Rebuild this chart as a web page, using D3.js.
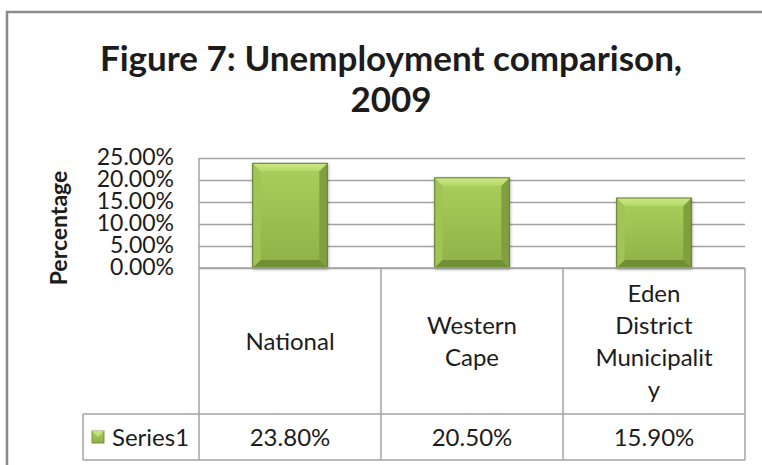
<!DOCTYPE html>
<html>
<head>
<meta charset="utf-8">
<script src="https://cdn.jsdelivr.net/npm/d3@7"></script>
<style>
  html, body { margin: 0; padding: 0; background: #ffffff; }
  svg { display: block; }
  text { font-family: Lato, "Open Sans", sans-serif; fill: #1c1c1c; }
</style>
</head>
<body>
<svg id="chart" width="762" height="465"></svg>
<script>
// Unemployment rate by area, 2009
const categories = ["National", "Western Cape", "Eden District Municipality"];
const categoryLines = [["National"], ["Western", "Cape"], ["Eden", "District", "Municipalit", "y"]];
const values = [0.238, 0.205, 0.159];
const seriesName = "Series1";
const yTicks = [0, 0.05, 0.10, 0.15, 0.20, 0.25];
const titleLines = ["Figure 7: Unemployment comparison,", "2009"];
const yAxisTitle = "Percentage";

const svg = d3.select("#chart");
const fmt = d3.format(".2%");

// layout
const plotLeft = 199, plotRight = 745, plotTop = 158, plotBottom = 268;
const headerBottom = 414, tableBottom = 460, legendLeft = 83;
const gridColor = "#a3a3a3";

const defs = svg.append("defs");
const body = defs.append("linearGradient").attr("id", "barBody").attr("x1", 0).attr("y1", 0).attr("x2", 0).attr("y2", 1);
body.append("stop").attr("offset", "0%").attr("stop-color", "#abcf5c");
body.append("stop").attr("offset", "100%").attr("stop-color", "#8fb048");
const topG = defs.append("linearGradient").attr("id", "barTop").attr("x1", 0).attr("y1", 0).attr("x2", 0).attr("y2", 1);
topG.append("stop").attr("offset", "0%").attr("stop-color", "#cde887");
topG.append("stop").attr("offset", "100%").attr("stop-color", "#b5d867");
const shadow = defs.append("filter").attr("id", "barShadow").attr("x", "-20%").attr("y", "-20%").attr("width", "140%").attr("height", "140%");
shadow.append("feDropShadow").attr("dx", 0.5).attr("dy", 1).attr("stdDeviation", 1.6)
  .attr("flood-color", "#000").attr("flood-opacity", 0.35);

// outer chart border
svg.append("rect")
  .attr("x", 7).attr("y", 12).attr("width", 800).attr("height", 500)
  .attr("fill", "#fff").attr("stroke", "#8a8a8a").attr("stroke-width", 2.5);

// title
svg.append("text")
  .attr("x", 391).attr("y", 71)
  .attr("text-anchor", "middle")
  .style("font-size", "35px").style("font-weight", 700)
  .selectAll("tspan").data(titleLines).join("tspan")
  .attr("x", 391).attr("dy", (d, i) => i === 0 ? 0 : 41)
  .text(d => d);

// scales
const y = d3.scaleLinear().domain([0, 0.25]).range([plotBottom, plotTop]);
const cols = d3.scaleBand().domain(categories).range([plotLeft, plotRight]);
const xBar = d3.scaleBand().domain(categories).range([plotLeft, plotRight])
  .paddingInner(0.59).paddingOuter(0.295);

// gridlines
svg.append("g")
  .attr("transform", `translate(${plotLeft},0)`)
  .call(d3.axisLeft(y).tickValues(yTicks).tickSize(-(plotRight - plotLeft)).tickFormat(""))
  .call(g => g.select(".domain").remove())
  .call(g => g.selectAll("line").attr("stroke", gridColor).attr("stroke-width", 1.5));

// left edge of plot area
svg.append("line")
  .attr("x1", plotLeft).attr("x2", plotLeft).attr("y1", plotTop).attr("y2", plotBottom)
  .attr("stroke", gridColor).attr("stroke-width", 1.5);

// y-axis labels
svg.append("g")
  .attr("transform", `translate(${plotLeft},0)`)
  .call(d3.axisLeft(y).tickValues(yTicks).tickSize(0).tickPadding(25).tickFormat(fmt))
  .call(g => g.select(".domain").remove())
  .call(g => g.selectAll("text")
    .style("font-family", "Lato, sans-serif").style("font-size", "23px")
    .attr("fill", "#1c1c1c").attr("dy", "0.3em"));

// y-axis title
svg.append("text")
  .attr("transform", "translate(67,228) rotate(-90)")
  .attr("text-anchor", "middle")
  .style("font-size", "23px").style("font-weight", 700)
  .text(yAxisTitle);

// bevelled bars
const bev = 8;
const bars = svg.append("g").selectAll("g").data(categories).join("g")
  .attr("filter", "url(#barShadow)");
bars.each(function (c, i) {
  const g = d3.select(this);
  const x0 = xBar(c), w = xBar.bandwidth();
  const y0 = y(values[i]), y1 = y(0), h = y1 - y0;
  const x1 = x0 + w;
  g.append("rect").attr("x", x0).attr("y", y0).attr("width", w).attr("height", h)
    .attr("fill", "url(#barBody)");
  const poly = (pts, fill) => g.append("polygon")
    .attr("points", pts.map(p => p.join(",")).join(" ")).attr("fill", fill);
  poly([[x0, y0], [x0 + bev, y0 + bev], [x0 + bev, y1 - bev], [x0, y1]], "#a0c455");
  poly([[x1, y0], [x1, y1], [x1 - bev, y1 - bev], [x1 - bev, y0 + bev]], "#80a040");
  poly([[x0, y1], [x1, y1], [x1 - bev, y1 - bev], [x0 + bev, y1 - bev]], "#718f36");
  poly([[x0, y0], [x1, y0], [x1 - bev, y0 + bev], [x0 + bev, y0 + bev]], "url(#barTop)");
  g.append("rect").attr("x", x0).attr("y", y0).attr("width", w).attr("height", h)
    .attr("fill", "none").attr("stroke", "#5f7d2b").attr("stroke-width", 1);
});

// data table grid
const tableLines = svg.append("g").attr("stroke", gridColor).attr("stroke-width", 1.5);
tableLines.append("line").attr("x1", plotLeft).attr("x2", plotRight).attr("y1", plotBottom).attr("y2", plotBottom);
tableLines.append("line").attr("x1", legendLeft).attr("x2", plotRight).attr("y1", headerBottom).attr("y2", headerBottom);
tableLines.append("line").attr("x1", legendLeft).attr("x2", plotRight).attr("y1", tableBottom).attr("y2", tableBottom);
tableLines.append("line").attr("x1", legendLeft).attr("x2", legendLeft).attr("y1", headerBottom).attr("y2", tableBottom);
tableLines.selectAll(".col").data(categories.concat(["end"])).join("line")
  .attr("x1", (d, i) => i < categories.length ? cols(d) : plotRight)
  .attr("x2", (d, i) => i < categories.length ? cols(d) : plotRight)
  .attr("y1", plotBottom).attr("y2", tableBottom);

// category labels
const lineH = 32, capH = 17;
const headerMid = (plotBottom + headerBottom) / 2;
svg.append("g").selectAll("text").data(categories).join("text")
  .attr("text-anchor", "middle")
  .style("font-size", "24px")
  .each(function (c, i) {
    const lines = categoryLines[i];
    const cx = cols(c) + cols.bandwidth() / 2;
    const first = headerMid + capH / 2 - (lines.length - 1) * lineH / 2;
    d3.select(this).selectAll("tspan").data(lines).join("tspan")
      .attr("x", cx).attr("y", (d, j) => first + j * lineH)
      .text(d => d);
  });

// value row
const rowMid = (headerBottom + tableBottom) / 2;
svg.append("g").selectAll("text").data(categories).join("text")
  .attr("x", c => cols(c) + cols.bandwidth() / 2)
  .attr("y", rowMid + capH / 2)
  .attr("text-anchor", "middle")
  .style("font-size", "24px")
  .text((c, i) => fmt(values[i]));

// legend key and series name
const key = svg.append("g").attr("transform", `translate(92,${rowMid - 6})`);
key.append("rect").attr("width", 12).attr("height", 12).attr("fill", "url(#barBody)")
  .attr("stroke", "#5f7d2b").attr("stroke-width", 0.8);
key.append("polygon").attr("points", "0,0 12,0 6,6").attr("fill", "#c6e37d");
svg.append("text")
  .attr("x", 112).attr("y", rowMid + capH / 2)
  .style("font-size", "24px")
  .text(seriesName);
</script>
</body>
</html>
